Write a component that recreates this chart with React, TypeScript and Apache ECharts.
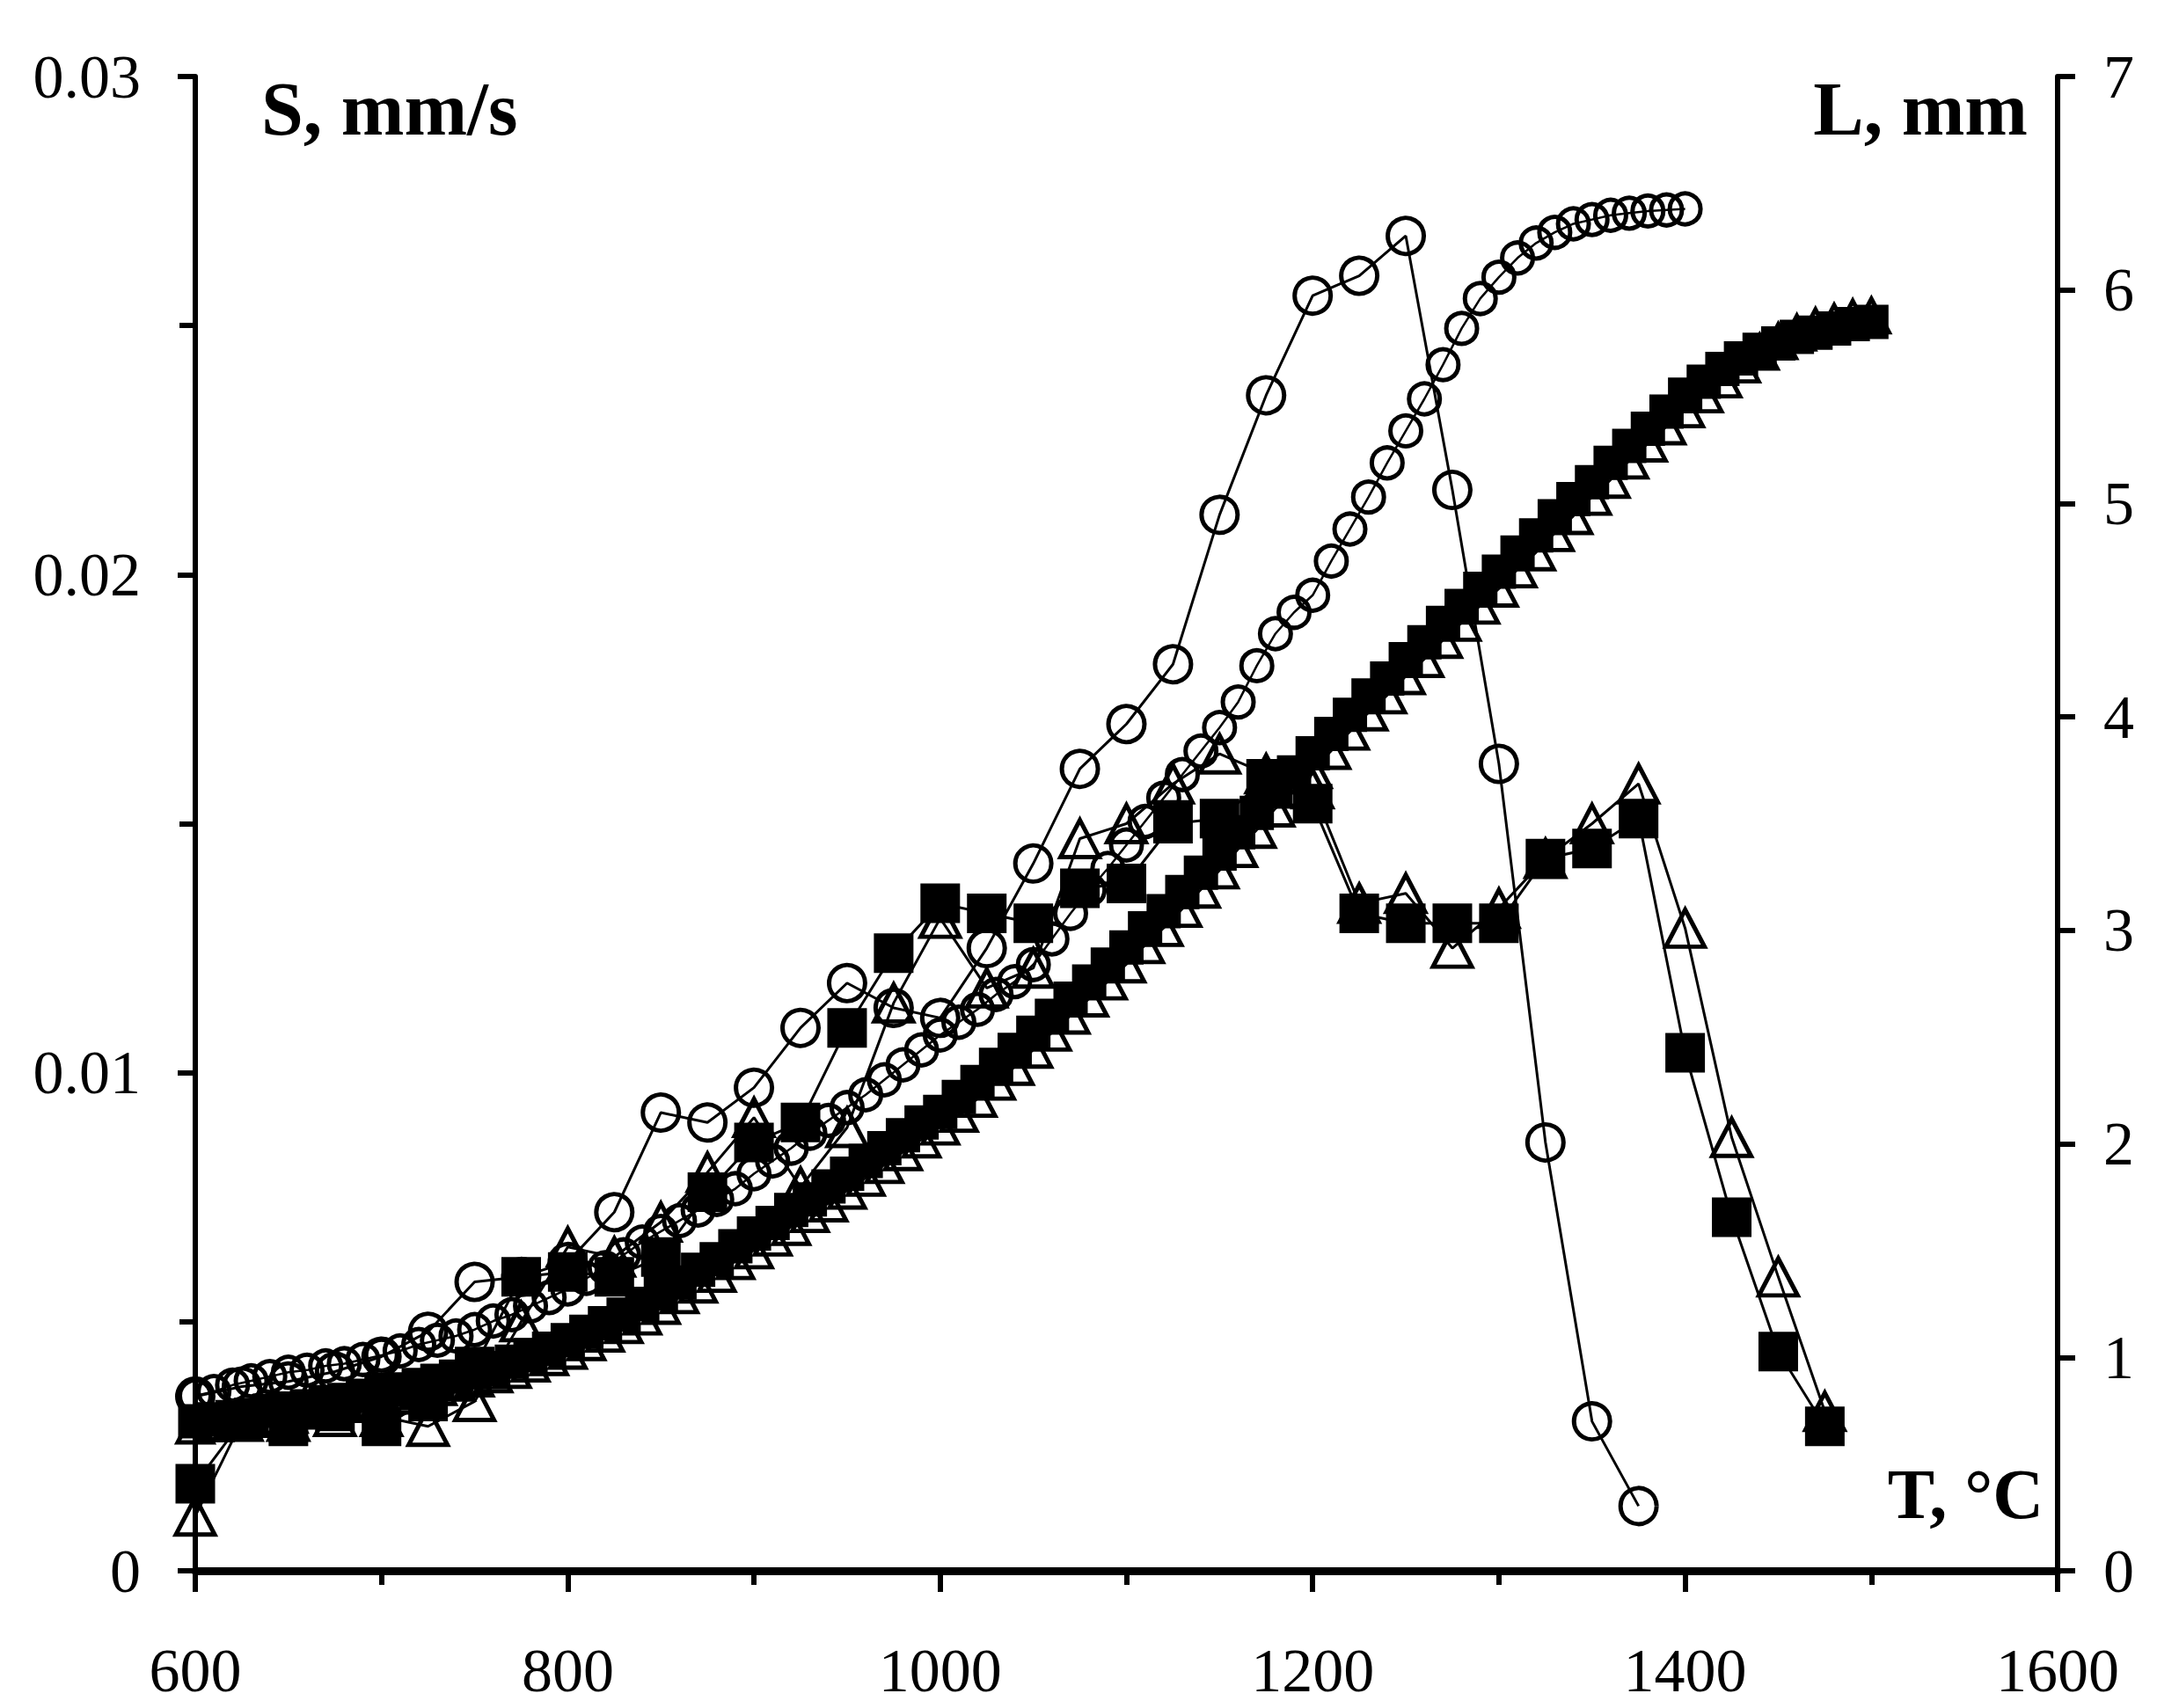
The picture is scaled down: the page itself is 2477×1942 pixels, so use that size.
import { useEffect, useRef } from "react";
import * as echarts from "echarts";

// temperatures of the rate points (every 25 °C)
const rateTemps = [
    600, 625, 650, 675, 700, 725, 750, 775, 800, 825, 850, 875, 900, 925, 950, 975, 1000, 1025,
    1050, 1075, 1100, 1125, 1150, 1175, 1200, 1225, 1250, 1275, 1300, 1325, 1350, 1375, 1400,
    1425, 1450, 1475,
];

// S, mm/s (left axis)
const circleRate = [
    0.0035, 0.0037, 0.0038, 0.004, 0.0043, 0.0048, 0.0058, 0.0059, 0.0062, 0.0072, 0.0092, 0.009,
    0.0097, 0.0109, 0.0118, 0.0113, 0.0111, 0.0125, 0.0142, 0.0161, 0.017, 0.0182, 0.0212, 0.0236,
    0.0256, 0.026, 0.0268, 0.0217, 0.0162, 0.0086, 0.003, 0.0013,
];
const triangleRate = [
    0.0011, 0.003, 0.003, 0.0031, 0.0031, 0.0029, 0.0034, 0.005, 0.0065, 0.0063, 0.007, 0.008,
    0.0091, 0.0077, 0.0089, 0.0114, 0.0131, 0.0117, 0.0121, 0.0147, 0.015, 0.0158, 0.0164, 0.016,
    0.0157, 0.0134, 0.0136, 0.0125, 0.0133, 0.0143, 0.015, 0.0158, 0.0129, 0.0087, 0.0059, 0.0032,
];
const squareRate = [
    0.00175, 0.003, 0.0029, 0.0032, 0.0029, 0.0034, 0.0041, 0.0059, 0.006, 0.0059, 0.0063, 0.0076,
    0.0086, 0.009, 0.0109, 0.0124, 0.0134, 0.0132, 0.013, 0.0137, 0.0138, 0.015, 0.0151, 0.0159,
    0.0154, 0.0132, 0.013, 0.013, 0.013, 0.0143, 0.0145, 0.0151, 0.0104, 0.0071, 0.0044, 0.0029,
];

// temperatures of the length points (every 10 °C)
const lenTemps = [
    600, 610, 620, 630, 640, 650, 660, 670, 680, 690, 700, 710, 720, 730, 740, 750, 760, 770, 780,
    790, 800, 810, 820, 830, 840, 850, 860, 870, 880, 890, 900, 910, 920, 930, 940, 950, 960, 970,
    980, 990, 1000, 1010, 1020, 1030, 1040, 1050, 1060, 1070, 1080, 1090, 1100, 1110, 1120, 1130,
    1140, 1150, 1160, 1170, 1180, 1190, 1200, 1210, 1220, 1230, 1240, 1250, 1260, 1270, 1280, 1290,
    1300, 1310, 1320, 1330, 1340, 1350, 1360, 1370, 1380, 1390, 1400, 1410, 1420, 1430, 1440, 1450,
    1460, 1470, 1480, 1490, 1500,
];

// L, mm (right axis)
const circleLen = [
    0.82, 0.84, 0.87, 0.89, 0.91, 0.93, 0.94, 0.96, 0.97, 0.99,
    1.01, 1.03, 1.06, 1.08, 1.1, 1.13, 1.17, 1.2, 1.24, 1.28,
    1.32, 1.37, 1.42, 1.48, 1.54, 1.59, 1.64, 1.69, 1.74, 1.79,
    1.86, 1.92, 1.98, 2.05, 2.11, 2.17, 2.23, 2.3, 2.37, 2.44,
    2.51, 2.57, 2.63, 2.7, 2.76, 2.84, 2.96, 3.08, 3.19, 3.29,
    3.4, 3.51, 3.62, 3.73, 3.84, 3.95, 4.07, 4.24, 4.39, 4.49,
    4.57, 4.73, 4.88, 5.03, 5.19, 5.34, 5.49, 5.65, 5.82, 5.96,
    6.06, 6.15, 6.22, 6.27, 6.31, 6.33, 6.35, 6.36, 6.37, 6.375, 6.38,
];
const triangleLen = [
    0.68, 0.69, 0.7, 0.71, 0.72, 0.73, 0.75, 0.76, 0.78, 0.79,
    0.81, 0.82, 0.84, 0.86, 0.88, 0.9, 0.92, 0.94, 0.97, 1.0,
    1.03, 1.07, 1.11, 1.15, 1.19, 1.24, 1.29, 1.34, 1.39, 1.45,
    1.5, 1.56, 1.61, 1.67, 1.72, 1.78, 1.84, 1.9, 1.96, 2.02,
    2.08, 2.14, 2.21, 2.29, 2.36, 2.44, 2.52, 2.6, 2.68, 2.76,
    2.84, 2.93, 3.01, 3.1, 3.19, 3.28, 3.38, 3.47, 3.57, 3.66,
    3.75, 3.84, 3.93, 4.02, 4.1, 4.19, 4.27, 4.36, 4.44, 4.52,
    4.6, 4.69, 4.77, 4.86, 4.94, 5.03, 5.11, 5.2, 5.28, 5.36,
    5.44, 5.51, 5.58, 5.65, 5.71, 5.76, 5.8, 5.83, 5.85, 5.87, 5.88,
];
const squareLen = [
    0.7, 0.71, 0.72, 0.73, 0.75, 0.76, 0.77, 0.79, 0.8, 0.82,
    0.84, 0.85, 0.87, 0.89, 0.91, 0.93, 0.95, 0.98, 1.01, 1.04,
    1.08, 1.12, 1.16, 1.2, 1.25, 1.3, 1.35, 1.41, 1.46, 1.52,
    1.58, 1.63, 1.69, 1.74, 1.8, 1.86, 1.92, 1.98, 2.04, 2.1,
    2.15, 2.22, 2.29, 2.37, 2.44, 2.52, 2.6, 2.68, 2.76, 2.84,
    2.92, 3.01, 3.09, 3.18, 3.27, 3.36, 3.46, 3.55, 3.65, 3.74,
    3.83, 3.92, 4.01, 4.1, 4.18, 4.27, 4.35, 4.44, 4.52, 4.6,
    4.68, 4.77, 4.85, 4.94, 5.02, 5.1, 5.19, 5.27, 5.35, 5.43,
    5.51, 5.57, 5.63, 5.68, 5.72, 5.75, 5.78, 5.8, 5.82, 5.84, 5.85,
];

const FONT = '"Liberation Serif", "Times New Roman", serif';

const zip = (xs: number[], ys: number[]) => ys.map((y, i) => [xs[i], y]);

export default function App() {
    const chartRef = useRef<HTMLDivElement | null>(null);

    useEffect(() => {
        if (!chartRef.current) return;
        const chart = echarts.init(chartRef.current, undefined, { renderer: "svg" });

        const hollow = { color: "rgba(0,0,0,0)", borderColor: "#000", borderWidth: 5 };
        const solid = { color: "#000", borderColor: "#000", borderWidth: 0 };
        const thin = { color: "#000", width: 3 };

        const tickStyle = { color: "#000", width: 6 };
        const label = { color: "#000", fontFamily: FONT, fontSize: 70 };

        chart.setOption({
            animation: false,
            backgroundColor: "#fff",
            grid: { left: 222, right: 138, top: 87, bottom: 156 },
            xAxis: {
                type: "value",
                min: 600,
                max: 1600,
                interval: 200,
                axisLine: { show: true, lineStyle: { color: "#000", width: 9 } },
                axisTick: { show: true, length: 24, lineStyle: tickStyle },
                minorTick: { show: true, splitNumber: 2, length: 16, lineStyle: tickStyle },
                splitLine: { show: false },
                minorSplitLine: { show: false },
                axisLabel: { ...label, margin: 78, formatter: (v: number) => String(v) },
            },
            yAxis: [
                {
                    type: "value",
                    position: "left",
                    min: 0,
                    max: 0.03,
                    interval: 0.01,
                    axisLine: { show: true, lineStyle: { color: "#000", width: 6 } },
                    axisTick: { show: true, length: 20, lineStyle: tickStyle },
                    minorTick: { show: true, splitNumber: 2, length: 18, lineStyle: tickStyle },
                    splitLine: { show: false },
                    minorSplitLine: { show: false },
                    axisLabel: {
                        ...label,
                        margin: 62,
                        formatter: (v: number) => (v === 0 ? "0" : v.toFixed(2)),
                    },
                },
                {
                    type: "value",
                    position: "right",
                    min: 0,
                    max: 7,
                    interval: 1,
                    axisLine: { show: true, lineStyle: { color: "#000", width: 6 } },
                    axisTick: { show: true, length: 20, lineStyle: tickStyle },
                    splitLine: { show: false },
                    axisLabel: { ...label, margin: 52, formatter: (v: number) => String(v) },
                },
            ],
            graphic: [
                {
                    type: "text",
                    x: 297,
                    y: 124,
                    style: {
                        text: "S, mm/s",
                        font: `bold 86px ${FONT}`,
                        fill: "#000",
                        textAlign: "left",
                        textVerticalAlign: "middle",
                    },
                },
                {
                    type: "text",
                    x: 2305,
                    y: 124,
                    style: {
                        text: "L, mm",
                        font: `bold 86px ${FONT}`,
                        fill: "#000",
                        textAlign: "right",
                        textVerticalAlign: "middle",
                    },
                },
                {
                    type: "text",
                    x: 2323,
                    y: 1699,
                    style: {
                        text: "T, °C",
                        font: `bold 80px ${FONT}`,
                        fill: "#000",
                        textAlign: "right",
                        textVerticalAlign: "middle",
                    },
                },
            ],
            series: [
                {
                    name: "L circles",
                    type: "line",
                    yAxisIndex: 1,
                    data: zip(lenTemps, circleLen),
                    symbol: "circle",
                    symbolSize: 35,
                    itemStyle: hollow,
                    lineStyle: { color: "#000", width: 2.5 },
                },
                {
                    name: "L triangles",
                    type: "line",
                    yAxisIndex: 1,
                    data: zip(lenTemps, triangleLen),
                    symbol: "triangle",
                    symbolSize: [40, 38],
                    itemStyle: hollow,
                    lineStyle: { color: "#000", width: 2.5 },
                },
                {
                    name: "L squares",
                    type: "line",
                    yAxisIndex: 1,
                    data: zip(lenTemps, squareLen),
                    symbol: "rect",
                    symbolSize: 39,
                    itemStyle: solid,
                    lineStyle: { color: "#000", width: 2.5 },
                },
                {
                    name: "S circles",
                    type: "line",
                    yAxisIndex: 0,
                    data: zip(rateTemps, circleRate),
                    symbol: "circle",
                    symbolSize: 41,
                    itemStyle: hollow,
                    lineStyle: thin,
                },
                {
                    name: "S triangles",
                    type: "line",
                    yAxisIndex: 0,
                    data: zip(rateTemps, triangleRate),
                    symbol: "triangle",
                    symbolSize: [44, 42],
                    itemStyle: hollow,
                    lineStyle: thin,
                },
                {
                    name: "S squares",
                    type: "line",
                    yAxisIndex: 0,
                    data: zip(rateTemps, squareRate),
                    symbol: "rect",
                    symbolSize: 45,
                    itemStyle: solid,
                    lineStyle: thin,
                },
            ],
        });

        return () => {
            chart.dispose();
        };
    }, []);

    return (
        <div
            ref={chartRef}
            style={{
                position: "fixed",
                left: 0,
                top: 0,
                width: 2477,
                height: 1942,
                background: "#fff",
            }}
        />
    );
}
